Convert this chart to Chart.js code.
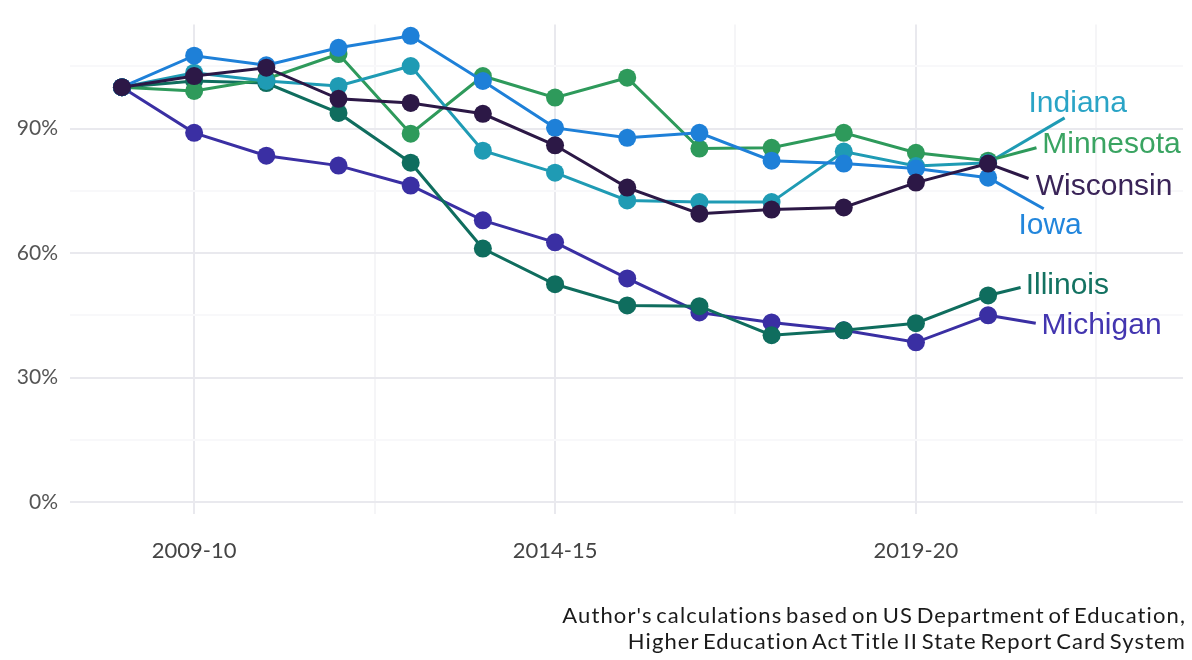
<!DOCTYPE html>
<html lang="en">
<head>
    <meta charset="UTF-8">
    <title>Teacher preparation completers by state</title>
    <script src="https://cdn.jsdelivr.net/npm/chart.js"></script>
    <style>
        body { margin: 0; background: #fff; }
        #wrap { position: relative; width: 1192px; height: 660px; }
        #caption {
            position: absolute; right: 6px; top: 602px;
            font-family: Lato, sans-serif; font-size: 22px; line-height: 26px;
            letter-spacing: 1.1px; word-spacing: -3px;
            color: #1a1a1a; text-align: right;
        }
    </style>
</head>
<body>
<div id="wrap">
    <canvas id="chart" width="1192" height="660"></canvas>
    <div id="caption">Author's calculations based on US Department of Education,<br>Higher Education Act Title II State Report Card System</div>
</div>

<script>
// school years, index 0 = 2008-09
const years = ['2008-09', '2009-10', '2010-11', '2011-12', '2012-13', '2013-14', '2014-15',
               '2015-16', '2016-17', '2017-18', '2018-19', '2019-20', '2020-21'];
const yearTicks = [1, 6, 11];
const pctTicks = [0, 30, 60, 90];

// values relative to 2008-09 (%)
const wisconsin = [100, 102.7, 104.7, 97.2, 96.2, 93.6, 86.0, 75.8, 69.5, 70.5, 71.0, 77.0, 81.6];
const iowa      = [100, 107.6, 105.3, 109.5, 112.4, 101.5, 90.2, 87.8, 89.0, 82.3, 81.6, 80.4, 78.2];
const indiana   = [100, 103.5, 101.5, 100.3, 105.1, 84.7, 79.4, 72.7, 72.3, 72.3, 84.5, 81.0, 81.8];
const minnesota = [100, 99.1, 102.0, 108.0, 88.8, 102.7, 97.5, 102.3, 85.2, 85.4, 89.0, 84.2, 82.3];
const illinois  = [100, 101.5, 101.0, 93.8, 81.8, 61.1, 52.5, 47.4, 47.2, 40.2, 41.4, 43.1, 49.8];
const michigan  = [100, 89.0, 83.5, 81.1, 76.3, 67.9, 62.6, 53.9, 45.7, 43.3, 41.4, 38.5, 45.0];

const states = ['Wisconsin', 'Iowa', 'Indiana', 'Minnesota', 'Illinois', 'Michigan'];
const series = [wisconsin, iowa, indiana, minnesota, illinois, michigan];
const colors = ['#2c1846', '#1e80d8', '#1f9bb4', '#2e9a5b', '#0f6d5e', '#3a2fa3'];
const labelColors = ['#3a2458', '#2286dc', '#2aa4c6', '#3aa462', '#137261', '#4336b0'];

// label leader end and text anchor, in data units (x index, y %)
const leaderEnd = [[12.56, 78.0], [12.77, 70.7], [13.06, 92.6], [12.67, 85.4], [12.45, 51.7], [12.66, 43.1]];
const textAnchor = [[12.66, 76.0], [12.42, 66.7], [12.56, 96.0], [12.75, 86.1], [12.52, 52.2], [12.74, 42.6]];

const endLabels = {
    id: 'endLabels',
    beforeDatasetsDraw(chart) {
        const { ctx, scales: { x, y } } = chart;
        ctx.save();
        ctx.lineWidth = 3;
        series.forEach((vals, i) => {
            const last = vals.length - 1;
            ctx.strokeStyle = colors[i];
            ctx.beginPath();
            ctx.moveTo(x.getPixelForValue(last), y.getPixelForValue(vals[last]));
            ctx.lineTo(x.getPixelForValue(leaderEnd[i][0]), y.getPixelForValue(leaderEnd[i][1]));
            ctx.stroke();
        });
        ctx.restore();
    },
    afterDatasetsDraw(chart) {
        const { ctx, scales: { x, y } } = chart;
        ctx.save();
        ctx.font = '30px "Liberation Sans", Arial, sans-serif';
        ctx.textAlign = 'left';
        ctx.textBaseline = 'middle';
        states.forEach((name, i) => {
            ctx.fillStyle = labelColors[i];
            ctx.fillText(name, x.getPixelForValue(textAnchor[i][0]), y.getPixelForValue(textAnchor[i][1]));
        });
        ctx.restore();
    }
};

new Chart(document.getElementById('chart'), {
    type: 'line',
    data: {
        datasets: states.map((name, i) => ({
            label: name,
            data: series[i].map((v, j) => ({ x: j, y: v })),
            borderColor: colors[i],
            backgroundColor: colors[i],
            borderWidth: 3,
            pointRadius: 9,
            pointHoverRadius: 9,
            pointBorderWidth: 0,
            tension: 0
        }))
    },
    options: {
        responsive: false,
        animation: false,
        layout: { padding: { top: 0, right: 7, left: 0, bottom: 0 } },
        plugins: { legend: { display: false }, tooltip: { enabled: false } },
        scales: {
            x: {
                type: 'linear',
                min: -0.72,
                max: 14.7,
                afterBuildTicks: s => { s.ticks = [1, 3.5, 6, 8.5, 11, 13.5].map(v => ({ value: v })); },
                afterFit: s => { s.height = 146; },
                border: { display: false },
                grid: {
                    drawTicks: false,
                    lineWidth: 2,
                    color: c => Number.isInteger(c.tick.value) ? '#e9e9ee' : '#f5f5f7'
                },
                ticks: {
                    padding: 24,
                    color: '#444',
                    font: { family: 'Lato', size: 22 },
                    maxRotation: 0,
                    autoSkip: false,
                    callback: v => yearTicks.includes(v) ? years[v] : ''
                }
            },
            y: {
                min: -2.9,
                max: 115.1,
                afterBuildTicks: s => { s.ticks = [0, 15, 30, 45, 60, 75, 90, 105].map(v => ({ value: v })); },
                afterFit: s => { s.width = 70; },
                border: { display: false },
                grid: {
                    drawTicks: false,
                    lineWidth: 2,
                    color: c => pctTicks.includes(c.tick.value) ? '#e9e9ee' : '#f8f8fa'
                },
                ticks: {
                    padding: 12,
                    color: '#555',
                    font: { family: 'Lato', size: 21 },
                    callback: v => pctTicks.includes(v) ? v + '%' : ''
                }
            }
        }
    },
    plugins: [endLabels]
});
</script>
</body>
</html>
